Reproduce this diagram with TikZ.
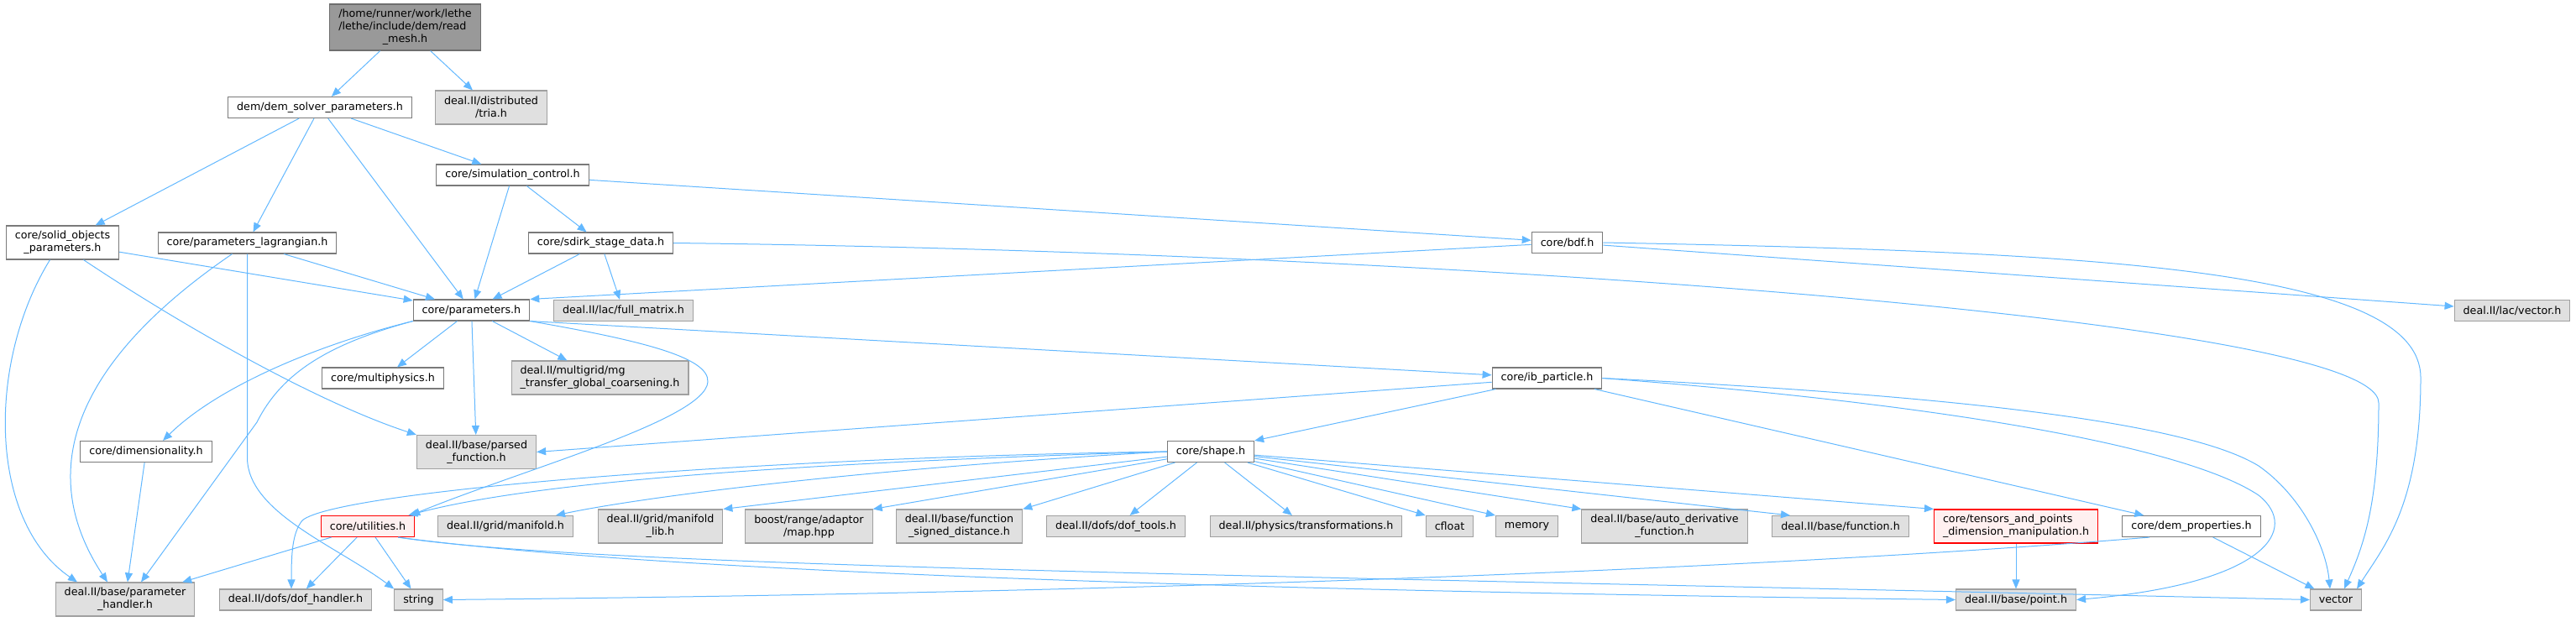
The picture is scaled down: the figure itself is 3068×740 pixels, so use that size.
\documentclass[tikz,border=0pt]{standalone}
\usepackage{fontspec}
\setmainfont{DejaVu Sans}
\usetikzlibrary{arrows.meta}

\definecolor{edgeblue}{HTML}{63B8FF}
\definecolor{fileline}{HTML}{7A7A7A}
\definecolor{sysline}{HTML}{A0A0A0}
\definecolor{sysfill}{HTML}{E0E0E0}
\definecolor{topline}{HTML}{6E6E6E}
\definecolor{topfill}{HTML}{999999}
\definecolor{badfill}{HTML}{FFF0F0}

\tikzset{
  hfile/.style={draw=fileline, fill=white, line width=1.1pt,
    font=\fontsize{12.7}{15}\selectfont, inner xsep=10.5pt, inner ysep=0pt,
    minimum height=25pt, align=center},
  sysfile/.style={hfile, draw=sysline, fill=sysfill},
  topfile/.style={hfile, draw=topline, fill=topfill},
  badfile/.style={hfile, draw=red, fill=badfill},
  twoline/.style={minimum height=40pt},
  threeline/.style={minimum height=55pt},
  incl/.style={draw=edgeblue, line width=1pt, -{Triangle[length=11pt,width=9pt,fill=edgeblue]}}
}

\begin{document}
\begin{tikzpicture}[x=1pt,y=-1pt]
\useasboundingbox (0,0) rectangle (3068,740);

% headers, rank by rank
\node[topfile,threeline] (root) at (482.5,32.5) {/home/runner/work/lethe\\\rlap{/lethe/include/dem/read}\phantom{/home/runner/work/lethe}\\\_mesh.h};

\node[hfile] (dsp) at (381,128) {dem/dem\_solver\_parameters.h};
\node[sysfile,twoline] (tria) at (585,128) {deal.II/distributed\\/tria.h};

\node[hfile] (simctl) at (610.5,208.5) {core/simulation\_control.h};

\node[hfile,twoline] (solid) at (74.5,289) {core/solid\_objects\\\_parameters.h};
\node[hfile] (lagr) at (294.5,289.5) {core/parameters\_lagrangian.h};
\node[hfile] (sdirk) at (715.5,289.5) {core/sdirk\_stage\_data.h};
\node[hfile] (bdf) at (1866.5,289) {core/bdf.h};

\node[hfile] (prm) at (561.5,369.5) {core/parameters.h};
\node[sysfile] (fullmat) at (742.5,370) {deal.II/lac/full\_matrix.h};
\node[sysfile] (lacvec) at (2992,370) {deal.II/lac/vector.h};

\node[hfile] (multi) at (456,450.5) {core/multiphysics.h};
\node[sysfile,twoline,align=left] (mg) at (714.5,450) {deal.II/multigrid/mg\\\_transfer\_global\_coarsening.h};
\node[hfile] (ibp) at (1842.5,450.5) {core/ib\_particle.h};

\node[hfile] (dim) at (174,538) {core/dimensionality.h};
\node[sysfile,twoline] (parsed) at (567.5,538.5) {deal.II/base/parsed\\\_function.h};
\node[hfile] (shape) at (1442,538) {core/shape.h};

\node[badfile] (util) at (438,627) {core/utilities.h};
\node[sysfile] (manif) at (602,627) {deal.II/grid/manifold.h};
\node[sysfile,twoline] (maniflib) at (786.5,627) {deal.II/grid/manifold\\\_lib.h};
\node[sysfile,twoline] (boostmap) at (963.5,627) {boost/range/adaptor\\/map.hpp};
\node[sysfile,twoline] (sdist) at (1142.5,627) {deal.II/base/function\\\_signed\_distance.h};
\node[sysfile] (doftools) at (1329,627) {deal.II/dofs/dof\_tools.h};
\node[sysfile] (transf) at (1555.5,627) {deal.II/physics/transformations.h};
\node[sysfile] (cfloat) at (1726.5,627) {cfloat};
\node[sysfile] (memory) at (1818.5,627) {memory};
\node[sysfile,twoline] (autoder) at (1982.5,627) {deal.II/base/auto\_derivative\\\_function.h};
\node[sysfile] (func) at (2192,627) {deal.II/base/function.h};
\node[badfile,twoline,align=left] (tensors) at (2401,627) {core/tensors\_and\_points\\\_dimension\_manipulation.h};
\node[hfile] (demprop) at (2610,627) {core/dem\_properties.h};

\node[sysfile,twoline] (parhdl) at (149,714) {deal.II/base/parameter\\\_handler.h};
\node[sysfile] (dofhdl) at (352,714.5) {deal.II/dofs/dof\_handler.h};
\node[sysfile] (string) at (498.5,714.5) {string};
\node[sysfile] (point) at (2401,714.5) {deal.II/base/point.h};
\node[sysfile] (vector) at (2782,714.5) {vector};

% straight includes
\foreach \a/\b in {root/dsp, root/tria, dsp/solid, dsp/lagr, dsp/prm, dsp/simctl,
  simctl/prm, simctl/sdirk, simctl/bdf, solid/prm, lagr/prm, sdirk/prm, sdirk/fullmat,
  bdf/prm.north east, bdf/lacvec, prm/multi, prm/mg, prm/parsed, prm.south east/ibp,
  dim/parhdl, ibp/parsed.east, ibp/shape.north east, ibp/demprop,
  shape/maniflib.north east, shape/boostmap.north east, shape/sdist.north east,
  shape/doftools, shape/transf, shape/cfloat.north west, shape/memory.north west,
  shape/autoder.north west, shape/tensors.north west,
  util/parhdl, util/dofhdl, util/string, demprop/vector, tensors/point}
{
\draw[incl] (\a) -- (\b);
}
\draw[incl] (shape) -- ([xshift=-60pt]func.north);

% bent includes
\draw[incl] ([xshift=25pt]solid.south) .. controls (220,390) and (380,480) .. (parsed.north west);
\draw[incl] ([xshift=-15pt]solid.south) .. controls (-15,430) and (-15,620) .. ([xshift=-57pt]parhdl.north);
\draw[incl] ([xshift=-18pt]lagr.south) .. controls (90,430) and (40,560) .. ([xshift=-21pt]parhdl.north);
\draw[incl] (lagr.south) -- (294.5,545) .. controls (294.5,610) and (400,650) .. (string.north west);
\draw[incl] (sdirk.east) .. controls (1700,300) and (2833,380) .. (2833,480) .. controls (2833,600) and (2815,650) .. ([xshift=10pt]vector.north);
\draw[incl] (bdf.east) .. controls (2500,300) and (2883,320) .. (2883,450) .. controls (2883,600) and (2840,650) .. ([xshift=25pt]vector.north);
\draw[incl] (prm.south west) .. controls (380,410) and (260,460) .. ([xshift=20pt]dim.north);
\draw[incl] (prm.south west) .. controls (390,410) and (335,445) .. (306,503) -- ([xshift=19pt]parhdl.north);
\draw[incl] (prm.south east) .. controls (760,405) and (845,425) .. (843,455) .. controls (840,500) and (620,560) .. ([xshift=-5pt]util.north east);
\draw[incl] (ibp.east) .. controls (2300,470) and (2600,500) .. (2690,555) .. controls (2740,590) and (2770,650) .. ([xshift=-7pt]vector.north);
\draw[incl] (ibp.east) .. controls (2300,480) and (2600,530) .. (2690,590) .. controls (2740,630) and (2700,695) .. (point.east);
\draw[incl] (shape.west) .. controls (1000,550) and (650,570) .. ([xshift=-8pt]util.north east);
\draw[incl] (shape.west) .. controls (900,545) and (400,585) .. (360,620) .. controls (348,635) and (347,660) .. ([xshift=-5pt]dofhdl.north);
\draw[incl] (shape.west) .. controls (1000,560) and (750,595) .. ([xshift=60pt]manif.north);
\draw[incl] ([xshift=-20pt]util.south east) .. controls (700,670) and (1200,700) .. (point.west);
\draw[incl] ([xshift=-20pt]util.south east) .. controls (700,675) and (1500,685) .. (vector.west);
\draw[incl] ([xshift=-50pt]demprop.south) .. controls (2200,670) and (1500,705) .. (string.east);
\end{tikzpicture}
\end{document}
